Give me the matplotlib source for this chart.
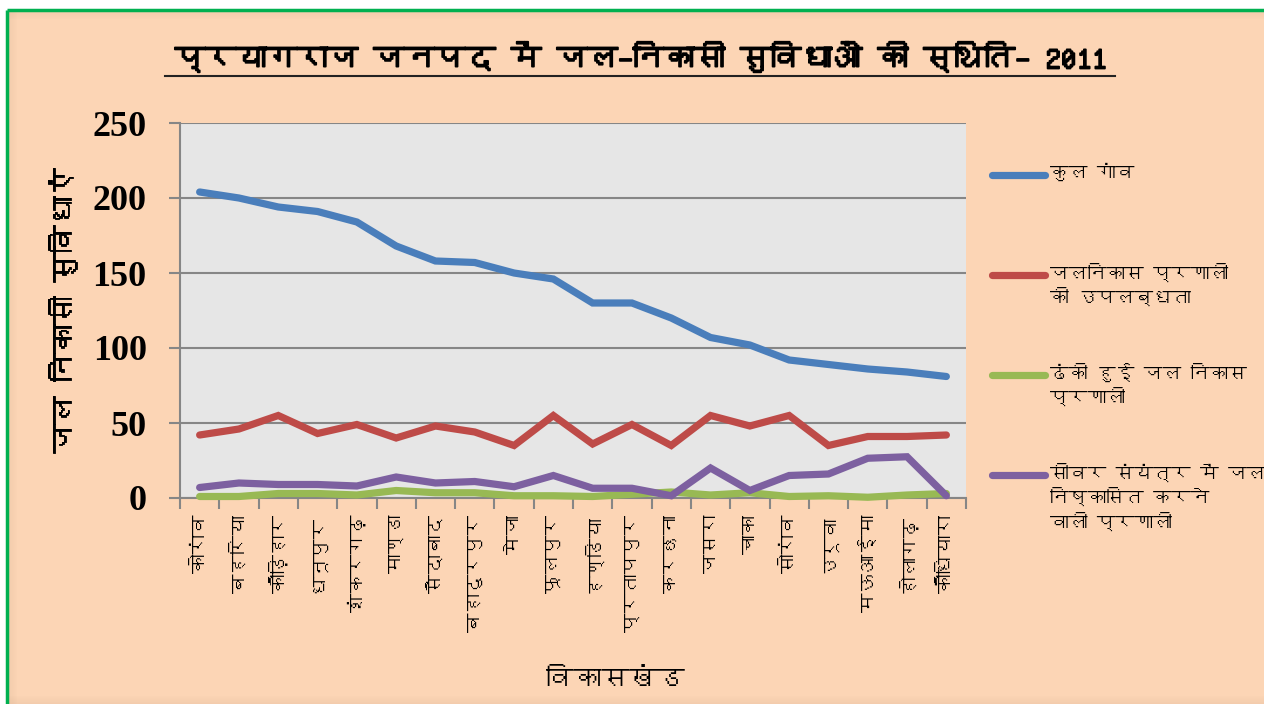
import matplotlib
matplotlib.use("Agg")
import matplotlib.pyplot as plt
from matplotlib import font_manager
from matplotlib import patheffects
from matplotlib.patches import Rectangle
from matplotlib.lines import Line2D
import numpy as np

# ---------------- data ----------------
blocks = ["कोरांव", "बहरिया", "कौड़िहार", "धनूपुर", "शंकरगढ़", "माण्डा", "सैदाबाद",
          "बहादुरपुर", "मेजा", "फूलपुर", "हण्डिया", "प्रतापपुर", "करछना", "जसरा",
          "चाका", "सोरांव", "उरूवा", "मऊआईमा", "होलागढ़", "कौंधियारा"]
total_villages = [204, 200, 194, 191, 184, 168, 158, 157, 150, 146,
                  130, 130, 120, 107, 102, 92, 89, 86, 84, 81]
drainage_available = [42, 46, 55, 43, 49, 40, 48, 44, 35, 55,
                      36, 49, 35, 55, 48, 55, 35, 41, 41, 42]
covered_drainage = [1, 1, 3, 3, 2, 5, 3.5, 3.5, 1.5, 1.5,
                    1, 2.5, 4, 2, 3.5, 1, 1.5, 0.5, 2, 3]
sewer_drainage = [7, 10, 9, 9, 8, 14, 10, 11, 7.5, 15,
                  6.5, 6.5, 1.5, 20, 5, 15, 16, 26.5, 27.5, 1.5]
series_labels = ["कुल गांव", "जलनिकास प्रणाली\nकी उपलब्धता",
                 "ढंकी हुई जल निकास\nप्रणाली", "सीवर संयंत्र में जल\nनिष्कासित करने\nवाली प्रणाली"]
y_ticks = [0, 50, 100, 150, 200, 250]
title = "प्रयागराज जनपद में जल–निकासी सुविधाओं की स्थिति– 2011"
y_label = "जल निकासी सुविधाएं"
x_label = "विकासखंड"

colors = ["#4a7ebb", "#be4b48", "#98b954", "#7d60a0"]

# ---------------- fonts ----------------
def find_deva_fonts():
    found = []
    try:
        from fontTools.ttLib import TTFont
    except Exception:
        return found
    seen = set()
    for f in font_manager.fontManager.ttflist:
        if f.name in seen:
            continue
        try:
            tt = TTFont(f.fname, fontNumber=0, lazy=True)
            cmap = tt.getBestCmap()
            if cmap and 0x0915 in cmap:
                found.append(f.name)
                seen.add(f.name)
        except Exception:
            pass
    return found

deva = find_deva_fonts()
fam = deva + ["Noto Sans", "DejaVu Sans"]
plt.rcParams['font.family'] = fam
num_fam = ["Liberation Serif", "DejaVu Serif"]

W, H = 1264, 704
fig = plt.figure(figsize=(W / 100, H / 100), dpi=100)
fig.patch.set_facecolor("white")

# background panel with green border on top/left
peach = "#fcd5b5"
fig.add_artist(Rectangle((8 / W, -0.01), 1.02, 1.01 - 11 / H, transform=fig.transFigure,
                         facecolor=peach, edgecolor="none", zorder=-10))
fig.add_artist(Line2D([7 / W, 7 / W], [0, 1 - 10 / H], transform=fig.transFigure,
                      color="#00b050", lw=2.5, zorder=-5, solid_capstyle="butt"))
fig.add_artist(Line2D([7 / W, 1], [1 - 10 / H, 1 - 10 / H], transform=fig.transFigure,
                      color="#00b050", lw=2.5, zorder=-5, solid_capstyle="butt"))
# soft inner shadow (top, left, bottom)
for i in range(8):
    a = 0.06 * (1 - i / 8)
    fig.add_artist(Rectangle((9 / W, 1 - (12 + i) / H), 1, 1 / H, transform=fig.transFigure,
                             facecolor="#6b4a2e", alpha=a, edgecolor="none", zorder=-9))
    fig.add_artist(Rectangle(((9 + i) / W, 0), 1 / W, 1 - 12 / H, transform=fig.transFigure,
                             facecolor="#6b4a2e", alpha=a, edgecolor="none", zorder=-9))
    fig.add_artist(Rectangle((9 / W, i / H), 1, 1 / H, transform=fig.transFigure,
                             facecolor="#6b4a2e", alpha=a, edgecolor="none", zorder=-9))

# axes
left, right, top, bottom = 180, 966, 123, 498
ax = fig.add_axes([left / W, 1 - bottom / H, (right - left) / W, (bottom - top) / H])
ax.set_facecolor("#e6e6e6")
n = len(blocks)
x = np.arange(n)
ax.set_xlim(-0.5, n - 0.5)
ax.set_ylim(0, 250)

for vals, c, lab in zip([total_villages, drainage_available, covered_drainage, sewer_drainage],
                        colors, series_labels):
    ax.plot(x, vals, color=c, lw=5.2, solid_capstyle="round", solid_joinstyle="miter",
            label=lab, zorder=3, clip_on=False)

ax.set_yticks(y_ticks)
ax.set_yticklabels([str(v) for v in y_ticks], fontfamily=num_fam, fontweight="bold", fontsize=26)
ax.yaxis.grid(True, color="#868686", lw=1.5)
ax.set_axisbelow(True)
ax.set_xticks(np.arange(-0.5, n, 1.0))
ax.set_xticklabels([])
ax.set_xticks(x, minor=True)
ax.set_xticklabels(blocks, minor=True, rotation=90, fontsize=14, va="top", ha="center")
ax.tick_params(axis="x", which="minor", length=0, pad=12)
ax.tick_params(axis="x", which="major", length=8, color="#868686", width=1.5, direction="out")
ax.tick_params(axis="y", length=8, color="#868686", width=1.5, direction="out", pad=16)
for s in ["top", "right"]:
    ax.spines[s].set_visible(False)
for s in ["left", "bottom"]:
    ax.spines[s].set_color("#868686")
    ax.spines[s].set_linewidth(1.5)

# titles
fig.text(640 / W, 1 - 57 / H, title, ha="center", va="center", fontsize=22, fontweight="bold",
         path_effects=[patheffects.withStroke(linewidth=1.3, foreground="black")])
fig.add_artist(Line2D([165 / W, 1115 / W], [1 - 76 / H, 1 - 76 / H], transform=fig.transFigure,
                      color="#222222", lw=1.5))
fig.text(62 / W, 1 - 310 / H, y_label, ha="center", va="center", rotation=90, fontsize=20.5,
         path_effects=[patheffects.withStroke(linewidth=0.6, foreground="black")])
fig.text(615 / W, 1 - 680 / H, x_label, ha="center", va="center", fontsize=20)

# legend (manual, Excel style)
leg_y = [175, 275, 375, 475]
for yy, c, lab in zip(leg_y, colors, series_labels):
    fig.add_artist(Line2D([992 / W, 1045 / W], [1 - yy / H, 1 - yy / H], transform=fig.transFigure,
                          color=c, lw=5.2, solid_capstyle="round"))
    fig.text(1050 / W, 1 - (yy - 12) / H, lab, ha="left", va="top", fontsize=13.5,
             linespacing=1.3)

fig.savefig("out.png", dpi=100, facecolor=fig.get_facecolor())
